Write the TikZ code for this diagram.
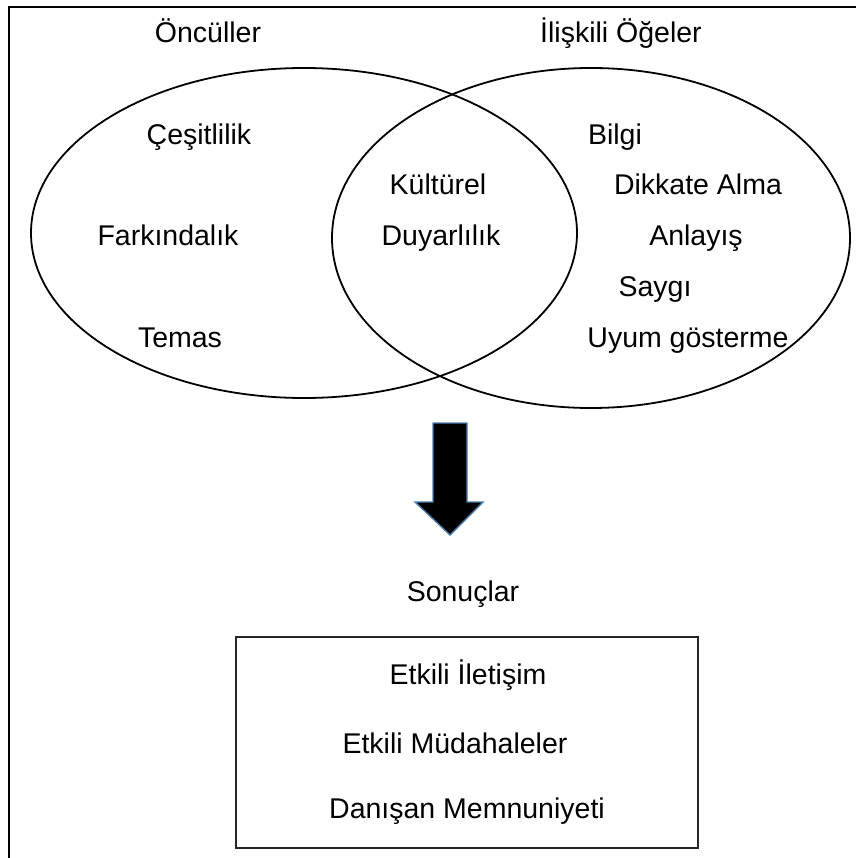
\documentclass[tikz,border=0pt]{standalone}
\usepackage{fontspec}
\setmainfont{Liberation Sans}
\definecolor{arrowedge}{HTML}{4F7FAF}
\begin{document}
\begin{tikzpicture}[x=1pt,y=-1pt,
  lbl/.style={anchor=base,inner sep=0pt,font=\fontsize{28.5}{34}\selectfont},
  venn/.style={draw=black,line width=1.8pt},
  frameline/.style={draw=black,line width=1.1pt}]
\useasboundingbox (0,0) rectangle (856,858);
% frame
\draw[frameline] (9,858) coordinate (fb) -- (9,7) coordinate (fc) -- (856,7) coordinate (fr);
% ellipses
\draw[venn] (304,233) ellipse [x radius=273pt, y radius=165pt];
\draw[venn] (591,238) ellipse [x radius=259pt, y radius=170pt];
% titles
\node[lbl] (t1) at (208,43) {Öncüller};
\node[lbl] (t2) at (621,43) {İlişkili Öğeler};
% left
\node[lbl] (a1) at (199,145) {Çeşitlilik};
\node[lbl] (a2) at (168,246) {Farkındalık};
\node[lbl] (a3) at (180,347) {Temas};
% middle
\node[lbl] (m1) at (438,195) {Kültürel};
\node[lbl] (m2) at (441,246) {Duyarlılık};
% right
\node[lbl] (r1) at (615,145) {Bilgi};
\node[lbl] (r2) at (698,195) {Dikkate Alma};
\node[lbl] (r3) at (696,246) {Anlayış};
\node[lbl] (r4) at (655,296) {Saygı};
\node[lbl] (r5) at (688,347) {Uyum gösterme};
% arrow
\draw[fill=black,draw=arrowedge,line width=1.4pt,line join=miter]
  (433,423) -- (467,423) -- (467,502) -- (483,502) -- (450,535) -- (415,502) -- (433,502) -- cycle;
% results
\node[lbl] (s) at (463,601) {Sonuçlar};
\draw[draw=black!85,line width=2.2pt] (236,637) rectangle (698,848);
\node[lbl] (b1) at (468,684) {Etkili İletişim};
\node[lbl] (b2) at (455,753) {Etkili Müdahaleler};
\node[lbl] (b3) at (467,818) {Danışan Memnuniyeti};
\end{tikzpicture}
\end{document}
